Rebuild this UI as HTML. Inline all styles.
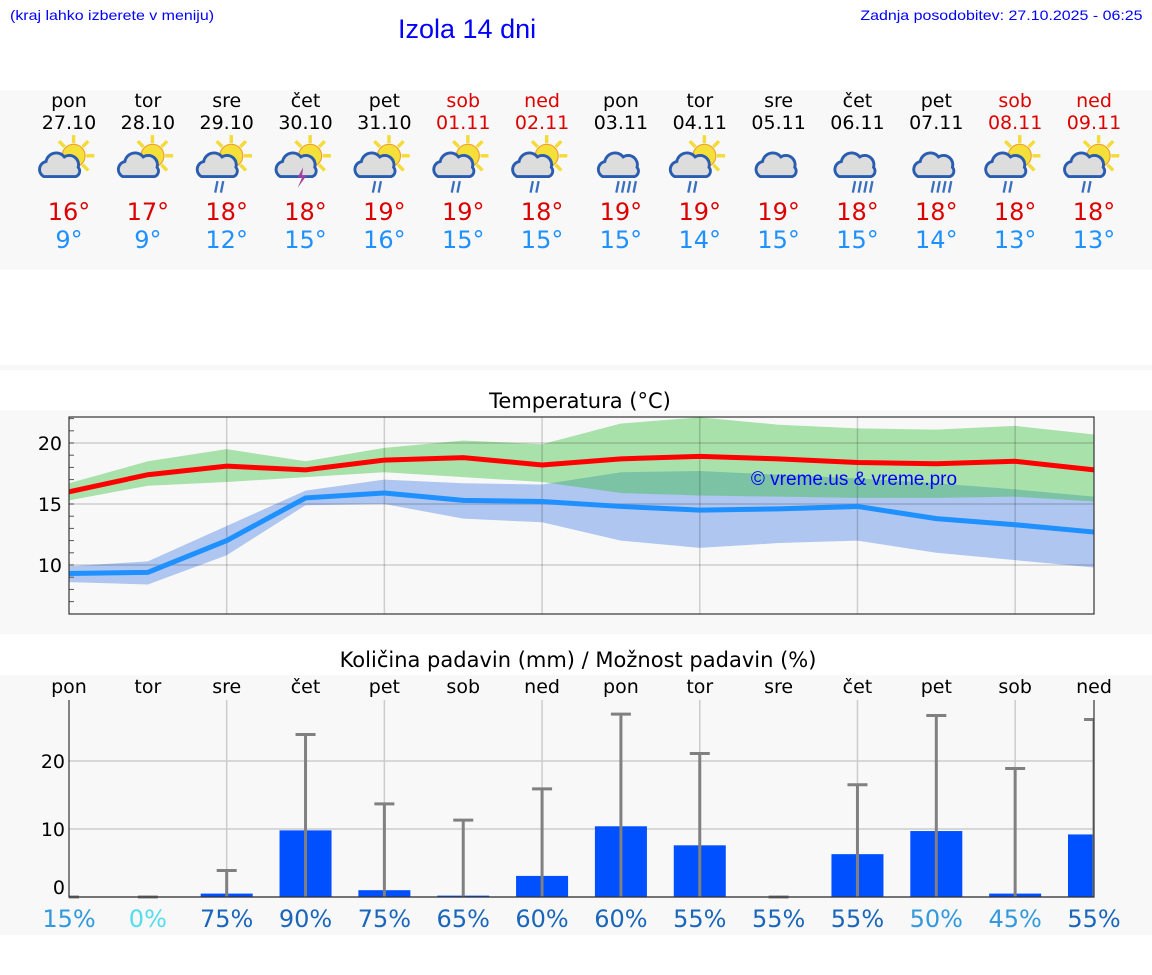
<!DOCTYPE html>
<html><head><meta charset="utf-8">
<style>
body{margin:0;width:1152px;height:975px;background:#fff;font-family:"DejaVu Sans","Liberation Sans",sans-serif;position:relative;overflow:hidden}
.abs{position:absolute}
</style></head>
<body>
<div class="abs" style="left:10px;top:7px;font-size:14px;color:#00f;font-family:'Liberation Sans',sans-serif;transform-origin:0 0;transform:scaleX(1.14)">(kraj lahko izberete v meniju)</div>
<div class="abs" style="left:398px;top:14px;font-size:27px;color:#00f;font-family:'Liberation Sans',sans-serif">Izola 14 dni</div>
<div class="abs" style="right:9px;top:7px;font-size:14px;color:#00f;font-family:'Liberation Sans',sans-serif;transform-origin:100% 0;transform:scaleX(1.14)">Zadnja posodobitev: 27.10.2025 - 06:25</div>
<div class="abs" style="left:0;top:90px;width:1152px;height:180px;background:#f8f8f8"></div>
<div class="abs" style="left:0;top:365px;width:1152px;height:5px;background:#f8f8f8"></div>
<div class="abs" style="left:0;top:410px;width:1152px;height:224px;background:#f8f8f8"></div>
<div class="abs" style="left:0;top:675px;width:1152px;height:260px;background:#f8f8f8"></div>
<svg id="main" class="abs" style="left:0;top:0" width="1152" height="975"></svg>
<script>
const days=["pon","tor","sre","čet","pet","sob","ned","pon","tor","sre","čet","pet","sob","ned"];
const dates=["27.10","28.10","29.10","30.10","31.10","01.11","02.11","03.11","04.11","05.11","06.11","07.11","08.11","09.11"];
const weekend=[0,0,0,0,0,1,1,0,0,0,0,0,1,1];
const icons=["ps","ps","psr","pst","psr","psr","psr","cr","psr","c","cr","cr","psr","psr"];
const tmax=[16,17,18,18,19,19,18,19,19,19,18,18,18,18];
const tmin=[9,9,12,15,16,15,15,15,14,15,15,14,13,13];
const maxLine=[16.0,17.4,18.1,17.8,18.6,18.8,18.2,18.7,18.9,18.7,18.4,18.3,18.5,17.8];
const maxHi=[16.7,18.5,19.5,18.5,19.6,20.2,19.9,21.6,22.1,21.5,21.2,21.1,21.4,20.7];
const maxLo=[15.3,16.5,16.8,17.2,17.6,17.2,16.8,15.9,15.7,15.6,15.5,15.5,15.6,15.2];
const minLine=[9.3,9.4,12.0,15.5,15.9,15.3,15.2,14.8,14.5,14.6,14.8,13.8,13.3,12.7];
const minHi=[9.9,10.3,13.2,16.1,17.0,16.7,16.6,17.6,17.7,17.4,17.1,16.7,16.2,15.6];
const minLo=[8.6,8.4,10.8,14.9,15.0,13.8,13.5,12.0,11.4,11.8,12.0,11.0,10.4,9.8];
const precip=[0,0,0.5,9.8,1.0,0.2,3.1,10.4,7.6,0,6.3,9.7,0.5,9.2];
const precipMax=[0,0,3.9,23.9,13.7,11.3,15.9,26.9,21.1,0,16.5,26.7,18.9,26.1];
const chance=[15,0,75,90,75,65,60,60,55,55,55,50,45,55];
const tempTicks=[10,15,20];
const precipTicks=[0,10,20];

const S=document.getElementById('main');const NS="http://www.w3.org/2000/svg";
function mk(t,a,p){const e=document.createElementNS(NS,t);for(const k in a)e.setAttribute(k,a[k]);(p||S).appendChild(e);return e;}
const X0=69,X1=1094;
const xs=i=>X0+i*(X1-X0)/13;
const ty=v=>443+(20-v)*12.2;
const py=v=>897-v*6.8;
const defs=mk('defs',{});
const cp=mk('clipPath',{id:'pclip'},defs);mk('rect',{x:X0,y:690,width:X1-X0,height:210},cp);

// header
days.forEach((d,i)=>{
  const c=weekend[i]?"#d00":"#000";
  let t=mk('text',{x:xs(i),y:107,'text-anchor':'middle','font-size':19,fill:c});t.textContent=d;
  
  t=mk('text',{x:xs(i),y:129,'text-anchor':'middle','font-size':19,fill:c});t.textContent=dates[i];
  
  t=mk('text',{x:xs(i),y:220,'text-anchor':'middle','font-size':24,fill:'#d00'});t.textContent=tmax[i]+"°";
  
  t=mk('text',{x:xs(i),y:248,'text-anchor':'middle','font-size':24,fill:'#1e90ff'});t.textContent=tmin[i]+"°";
  
  const g=mk('g',{transform:`translate(${xs(i)},165) scale(1.15)`});
  
  const k=icons[i];
  if(k[0]=='p'){
    for(let a=0;a<8;a++){const r=a*Math.PI/4;mk('line',{x1:4+Math.cos(r)*11,y1:-8+Math.sin(r)*11,x2:4+Math.cos(r)*18,y2:-8+Math.sin(r)*18,stroke:'#f3dc3a','stroke-width':3},g);}
    mk('circle',{cx:4,cy:-8,r:10,fill:'#f5e03a',stroke:'#f0a030','stroke-width':1},g);
  }
  const cx=k[0]=='p'?-6:0;
  mk('path',{d:`M${cx-16},10 a7,7 0 0 1 2,-13 a9,9 0 0 1 16,-4 a8,8 0 0 1 12,9 a5,5 0 0 1 -2,8 z`,fill:'#ddd',stroke:'#2a5db0','stroke-width':2.5},g);
  if(k.includes('r')){for(let j=0;j<(k[0]=='c'?4:2);j++)mk('line',{x1:cx-2+j*5,y1:14,x2:cx-4+j*5,y2:24,stroke:'#3a6fc0','stroke-width':2},g);}
  if(k.includes('t'))mk('path',{d:`M${cx+4},2 l-5,9 h4 l-4,9 l8,-11 h-4 z`,fill:'#a040a0'},g);
});

// temperature chart
let t=mk('text',{x:580,y:408,'text-anchor':'middle','font-size':21});t.textContent="Temperatura (°C)";

mk('rect',{x:X0,y:417,width:X1-X0,height:197,fill:'#f8f8f8'});
function band(hi,lo,col,name){let d=hi.map((v,i)=>(i?'L':'M')+xs(i)+','+ty(v)).join('');for(let i=13;i>=0;i--)d+='L'+xs(i)+','+ty(lo[i]);
 const p=mk('path',{d:d+'Z',fill:col});}
function line(a,col,name){const p=mk('polyline',{points:a.map((v,i)=>xs(i)+','+ty(v)).join(' '),fill:'none',stroke:col,'stroke-width':5});
 }
band(minHi,minLo,'#aec6f0','min-temp-range');
band(maxHi,maxLo,'rgba(50,190,53,0.4)','max-temp-range');
tempTicks.forEach(v=>{mk('line',{x1:X0,x2:X1,y1:ty(v),y2:ty(v),stroke:'rgba(0,0,0,0.17)','stroke-width':1.5});
 const l=mk('text',{x:62,y:ty(v)+7,'text-anchor':'end','font-size':19});l.textContent=v;
 });
for(let v=7;v<=22;v++)mk('line',{x1:X0,x2:X0+5,y1:ty(v),y2:ty(v),stroke:'#555'});
for(let i=2;i<14;i+=2)mk('line',{x1:xs(i),x2:xs(i),y1:417,y2:614,stroke:'rgba(0,0,0,0.17)','stroke-width':1.5});
line(minLine,'#1e90ff','min-temp-line');line(maxLine,'#f00','max-temp-line');
mk('rect',{x:X0,y:417,width:X1-X0,height:197,fill:'none',stroke:'#333','stroke-width':1.2});
t=mk('text',{x:854,y:485,'text-anchor':'middle','font-size':19,fill:'#00f','font-family':'Liberation Sans, sans-serif'});t.textContent="© vreme.us & vreme.pro";


// precip chart
t=mk('text',{x:578,y:667,'text-anchor':'middle','font-size':21});t.textContent="Količina padavin (mm) / Možnost padavin (%)";

days.forEach((d,i)=>{const l=mk('text',{x:xs(i),y:693,'text-anchor':'middle','font-size':19});l.textContent=d;
 });
precipTicks.forEach(v=>{mk('line',{x1:X0,x2:X1,y1:py(v),y2:py(v),stroke:'#ccc','stroke-width':1.5});
 const l=mk('text',{x:65,y:py(v)+(v?7:-3),'text-anchor':'end','font-size':19});l.textContent=v;
 });
for(let i=2;i<14;i+=2)mk('line',{x1:xs(i),x2:xs(i),y1:700,y2:897,stroke:'#ccc','stroke-width':1.5});
const pg=mk('g',{'clip-path':'url(#pclip)'});
precip.forEach((v,i)=>{const b=mk('rect',{x:xs(i)-26,y:py(v),width:52,height:897-py(v),fill:'#0050ff'},pg);
 
 const e=mk('g',{stroke:'#808080','stroke-width':3},pg);
 mk('line',{x1:xs(i),x2:xs(i),y1:897,y2:py(precipMax[i])},e);mk('line',{x1:xs(i)-10,x2:xs(i)+10,y1:py(precipMax[i]),y2:py(precipMax[i])},e);
 const c=chance[i]==0?'#55ddee':(chance[i]<=50?'#3399dd':'#1a66bb');
 const l=mk('text',{x:xs(i),y:927,'text-anchor':'middle','font-size':24,fill:c});l.textContent=chance[i]+"%";
 });
mk('polyline',{points:`${X0},700 ${X0},897 ${X1},897 ${X1},700`,fill:'none',stroke:'#333','stroke-width':1.2});
</script>
</body></html>
